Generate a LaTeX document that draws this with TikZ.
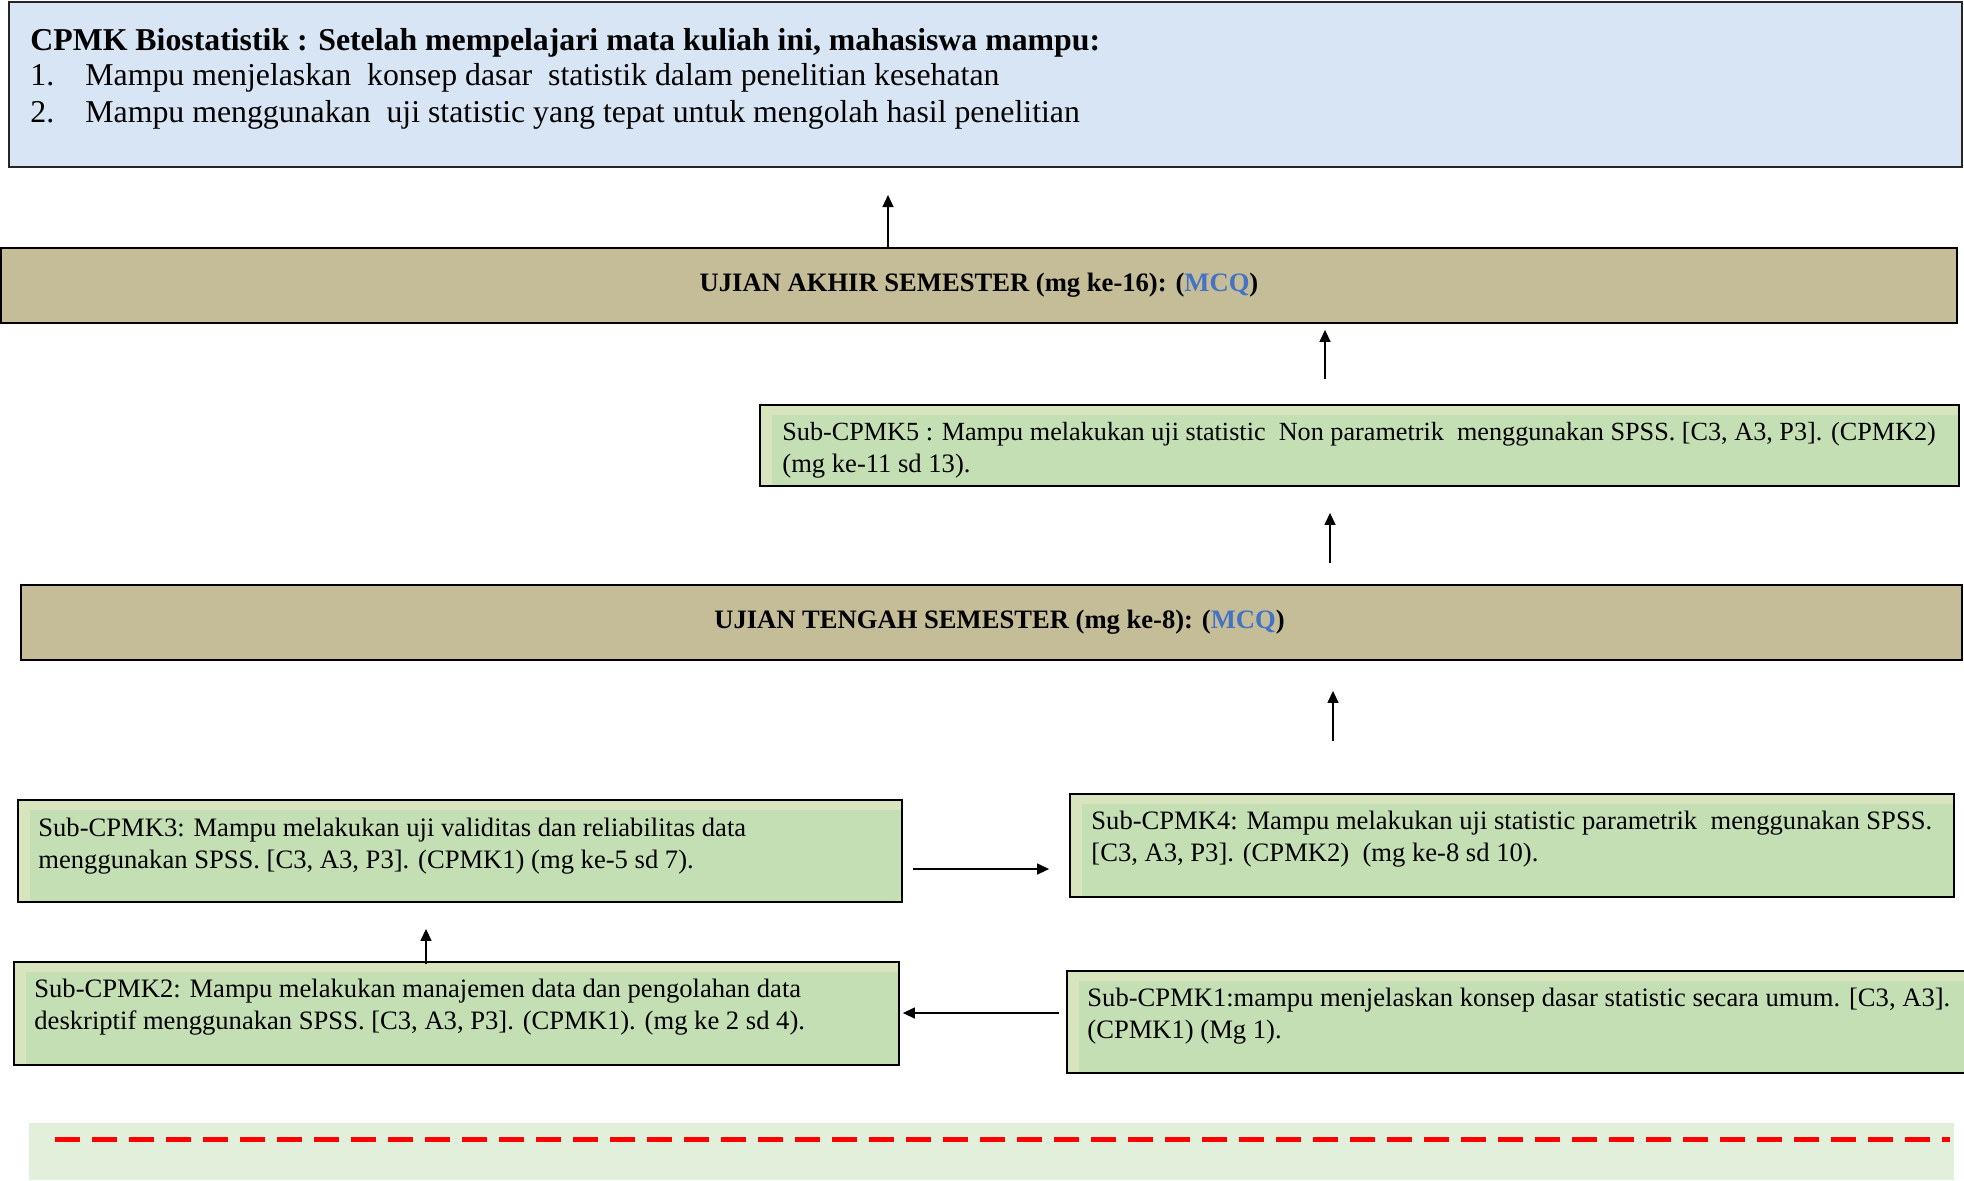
\documentclass[tikz,border=0pt]{standalone}
\usepackage{fontspec}
\setmainfont{Liberation Serif}
\usetikzlibrary{arrows.meta}
\definecolor{topblue}{HTML}{D7E5F5}
\definecolor{tanfill}{HTML}{C4BD97}
\definecolor{gfill}{HTML}{C5DFB4}
\definecolor{glight}{HTML}{D8E4BD}
\definecolor{bandfill}{HTML}{E2EFDA}
\definecolor{mcqblue}{HTML}{4472C4}
\definecolor{dashred}{HTML}{FF0000}
\begin{document}
\begin{tikzpicture}[x=0.5pt,y=-0.5pt,
  topbox/.style={draw=black!85, line width=1pt, fill=topblue, inner sep=0},
  tanbox/.style={draw=black, line width=0.9pt, fill=tanfill, inner sep=0,
    font=\fontsize{13.3}{16}\selectfont\bfseries},
  greenbox/.style={draw=black, line width=0.9pt, fill=glight, inner sep=0,
    path picture={\fill[gfill] ([xshift=6pt,yshift=-5pt]path picture bounding box.north west) rectangle (path picture bounding box.south east);}},
  boxtext/.style={anchor=north west, align=left, inner sep=0,
    font=\fontsize{13.3}{16}\selectfont},
  toptext/.style={anchor=mid west, inner sep=0, font=\fontsize{15.9}{19}\selectfont},
  arr/.style={-{Triangle[length=6pt,width=5.5pt]}, line width=0.7pt},
]
\useasboundingbox (0,0) rectangle (1964,1180);

% top box
\node[topbox, minimum width=976.5pt, minimum height=82.5pt] (top) at (985.5,84.5) {};
\node[toptext, font=\fontsize{15.9}{19}\selectfont\bfseries] (title) at (30,46)
  {CPMK Biostatistik : Setelah mempelajari mata kuliah ini, mahasiswa mampu:};
\node[toptext] (n1) at (30,81) {1.};
\node[toptext] (i1) at (85,81) {Mampu menjelaskan\ \ konsep dasar\ \ statistik dalam penelitian kesehatan};
\node[toptext] (n2) at (30,118) {2.};
\node[toptext] (i2) at (85,118) {Mampu menggunakan\ \ uji statistic yang tepat untuk mengolah hasil penelitian};

% UAS
\node[tanbox, minimum width=978pt, minimum height=37.5pt] (uas) at (979,285.5)
  {\raisebox{-1.2pt}{UJIAN AKHIR SEMESTER (mg ke-16): ({\color{mcqblue}MCQ})}};

% Sub-CPMK5
\node[greenbox, minimum width=599.5pt, minimum height=40.5pt] (s5) at (1359.5,445.5) {};
\node[boxtext] (t5) at (782,421.5)
  {{\fontsize{13.1}{16}\selectfont Sub-CPMK5 : Mampu melakukan uji statistic\ \ Non parametrik\ \ menggunakan SPSS. [C3, A3, P3]. (CPMK2)}\\(mg ke-11 sd 13).};

% UTS
\node[tanbox, minimum width=970.5pt, minimum height=37.5pt] (uts) at (991.5,622.5)
  {\hspace*{8pt}\raisebox{-1.2pt}{UJIAN TENGAH SEMESTER (mg ke-8): ({\color{mcqblue}MCQ})}};

% Sub-CPMK3
\node[greenbox, minimum width=442pt, minimum height=51pt] (s3) at (460,851) {};
\node[boxtext] (t3) at (38,817.5)
  {Sub-CPMK3: Mampu melakukan uji validitas dan reliabilitas data\\menggunakan SPSS. [C3, A3, P3]. (CPMK1) (mg ke-5 sd 7).};

% Sub-CPMK4
\node[greenbox, minimum width=442pt, minimum height=51.5pt] (s4) at (1512,845.5) {};
\node[boxtext] (t4) at (1091,811)
  {Sub-CPMK4: Mampu melakukan uji statistic parametrik\ \ menggunakan SPSS.\\{[}C3, A3, P3]. (CPMK2)\ \ (mg ke-8 sd 10).};

% Sub-CPMK2
\node[greenbox, minimum width=442.5pt, minimum height=51.5pt] (s2) at (456.5,1013.5) {};
\node[boxtext] (t2) at (34,979)
  {Sub-CPMK2: Mampu melakukan manajemen data dan pengolahan data\\deskriptif menggunakan SPSS. [C3, A3, P3]. (CPMK1). (mg ke 2 sd 4).};

% Sub-CPMK1
\node[greenbox, minimum width=449.5pt, minimum height=51pt] (s1) at (1516.5,1022) {};
\node[boxtext] (t1) at (1087,987.5)
  {Sub-CPMK1:mampu menjelaskan konsep dasar statistic secara umum. [C3, A3].\\(CPMK1) (Mg 1).};

% bottom band
\node[fill=bandfill, inner sep=0, minimum width=962.5pt, minimum height=28.5pt] (band) at (991.5,1151.5) {};
\coordinate (dl) at (55,1139);
\coordinate (dr) at (1950,1139);
\draw[dashred, line width=2.5pt, dash pattern=on 12.5pt off 6pt] (dl) -- (dr);

% connectors
\coordinate (c1) at (888,0);
\draw[arr, shorten >=13.5pt] (c1 |- uas.north) -- (c1 |- top.south);
\coordinate (c2) at (1325,0);
\draw[arr, shorten <=12.5pt, shorten >=3pt] (c2 |- s5.north) -- (c2 |- uas.south);
\coordinate (c3) at (1330,0);
\draw[arr, shorten <=10.5pt, shorten >=13pt] (c3 |- uts.north) -- (c3 |- s5.south);
\coordinate (c4) at (1333,0);
\draw[arr, shorten <=26pt, shorten >=15pt] (c4 |- s4.north) -- (c4 |- uts.south);
\coordinate (c5) at (0,869);
\draw[arr, shorten <=5pt, shorten >=10pt] (s3.east |- c5) -- (s4.west |- c5);
\coordinate (c6) at (426,0);
\draw[arr, shorten <=-1.5pt, shorten >=13pt] (c6 |- s2.north) -- (c6 |- s3.south);
\coordinate (c7) at (0,1013);
\draw[arr, shorten <=3.5pt, shorten >=1.5pt] (s1.west |- c7) -- (s2.east |- c7);
\end{tikzpicture}
\end{document}
